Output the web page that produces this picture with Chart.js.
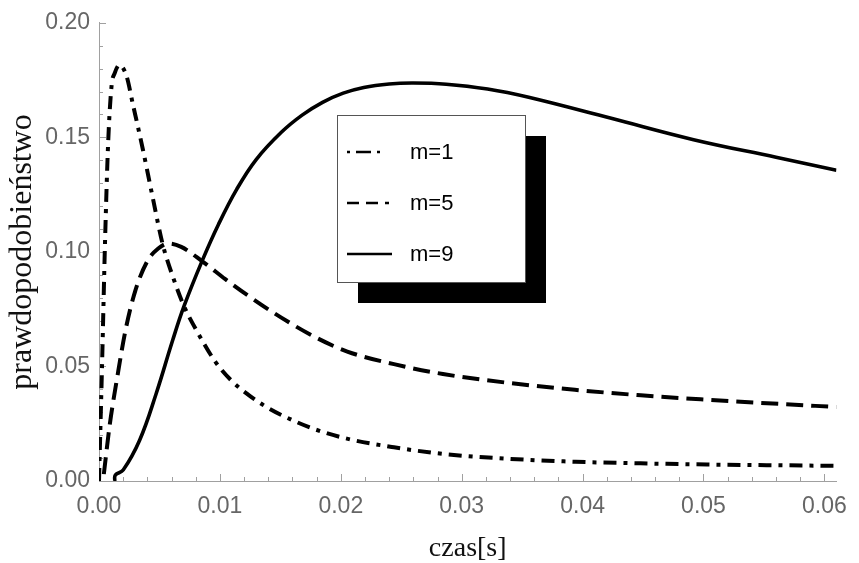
<!DOCTYPE html>
<html>
<head>
<meta charset="utf-8">
<script src="https://cdn.jsdelivr.net/npm/chart.js@4.4.1/dist/chart.umd.min.js"></script>
<style>
  html, body { margin: 0; padding: 0; background: #fff; }
  #wrap { width: 859px; height: 563px; }
</style>
</head>
<body>
<div id="wrap"><canvas id="probChart"></canvas></div>
<script>
// czas [s] / prawdopodobieństwo for m = 1, 5, 9
var t1 = [0, 0.0001, 0.00025, 0.0005, 0.00076, 0.00104, 0.0013, 0.00168, 0.00227, 0.0028, 0.00363, 0.00444,
          0.00526, 0.0062, 0.00704, 0.00827, 0.00963, 0.011, 0.01236, 0.01372, 0.01508, 0.0178, 0.0205,
          0.0244, 0.0285, 0.0339, 0.0394, 0.0448, 0.0503, 0.0557, 0.061];
var p1 = [0, 0.02, 0.05, 0.1046, 0.148, 0.1725, 0.178, 0.1816, 0.1769, 0.1645, 0.1447, 0.1238,
          0.1035, 0.0878, 0.0762, 0.0638, 0.052, 0.0436, 0.0376, 0.0327, 0.0288, 0.0227, 0.0185,
          0.0147, 0.0118, 0.0097, 0.0084, 0.0077, 0.0072, 0.0069, 0.0066];

var t5 = [0.0004, 0.0009, 0.0015, 0.0022, 0.003, 0.004, 0.0049, 0.00575, 0.0068, 0.00854, 0.01045,
          0.01236, 0.01508, 0.01781, 0.02054, 0.0244, 0.02845, 0.0339, 0.03936, 0.04482,
          0.05027, 0.05573, 0.061];
var p5 = [0.003, 0.025, 0.045, 0.066, 0.083, 0.096, 0.1015, 0.1037, 0.1022, 0.0959, 0.0881,
          0.0808, 0.0713, 0.063, 0.0565, 0.051, 0.0467, 0.0428, 0.0398, 0.0374,
          0.0355, 0.0338, 0.0323];

var t9 = [0.0013, 0.00135, 0.002, 0.00336, 0.00472, 0.00608, 0.00704, 0.00854, 0.0099, 0.0114, 0.013,
          0.01508, 0.0168, 0.01849, 0.0202, 0.0219, 0.024, 0.026, 0.02872, 0.03214, 0.03554, 0.04237,
          0.04918, 0.056, 0.061];
var p9 = [0, 0.0026, 0.0048, 0.0178, 0.038, 0.0612, 0.0764, 0.0962, 0.1122, 0.1274, 0.1403,
          0.1522, 0.1597, 0.1653, 0.1693, 0.1718, 0.1733, 0.1737, 0.1732, 0.1711, 0.1675, 0.1583,
          0.149, 0.1413, 0.1356];

var names = ['m=1', 'm=5', 'm=9'];
var xTicks = [0, 0.01, 0.02, 0.03, 0.04, 0.05, 0.06];
var yTicks = [0, 0.05, 0.10, 0.15, 0.20];
var xMax = 0.061;

function pts(t, p) {
  return t.map(function (v, i) { return {x: v, y: p[i]}; });
}

// small inward tick marks, major + minor
var inwardTicks = {
  id: 'inwardTicks',
  beforeDatasetsDraw: function (chart) {
    var ctx = chart.ctx, a = chart.chartArea, x = chart.scales.x, y = chart.scales.y;
    ctx.save();
    ctx.strokeStyle = '#a0a0a0';
    ctx.lineWidth = 1;
    ctx.beginPath();
    for (var i = 0; i * 0.002 <= xMax + 1e-9; i++) {
      var px = Math.round(x.getPixelForValue(i * 0.002)) + 0.5;
      var len = i % 5 === 0 ? 7 : 4;
      ctx.moveTo(px, a.bottom);
      ctx.lineTo(px, a.bottom - len);
    }
    for (var j = 0; j <= 20; j++) {
      var py = Math.round(y.getPixelForValue(j * 0.01)) + 0.5;
      var l = j % 5 === 0 ? 7 : 4;
      ctx.moveTo(a.left, py);
      ctx.lineTo(a.left + l, py);
    }
    ctx.stroke();
    ctx.restore();
  }
};

// framed legend with a solid drop shadow
var boxLegend = {
  id: 'boxLegend',
  afterDatasetsDraw: function (chart) {
    var ctx = chart.ctx;
    var bx = 337, by = 115, bw = 188, bh = 167, off = 21;
    var dashes = [[3, 6, 15, 6], [12, 7], []];
    var ends = [384, 389, 392];
    ctx.save();
    ctx.fillStyle = '#000';
    ctx.fillRect(bx + off, by + off, bw, bh);
    ctx.fillStyle = '#fff';
    ctx.fillRect(bx, by, bw, bh);
    ctx.strokeStyle = '#555';
    ctx.lineWidth = 1;
    ctx.strokeRect(bx + 0.5, by + 0.5, bw, bh);
    ctx.font = '22px "Liberation Sans", Arial, sans-serif';
    ctx.textBaseline = 'middle';
    ctx.textAlign = 'left';
    chart.data.datasets.forEach(function (ds, i) {
      var yy = 152 + i * 51;
      ctx.strokeStyle = '#000';
      ctx.lineWidth = 2.5;
      ctx.setLineDash(dashes[i]);
      ctx.beginPath();
      ctx.moveTo(347, yy);
      ctx.lineTo(ends[i], yy);
      ctx.stroke();
      ctx.setLineDash([]);
      ctx.fillStyle = '#000';
      ctx.fillText(ds.label, 410, yy + 1);
    });
    ctx.restore();
  }
};

var ctx = document.getElementById('probChart');
var chart = new Chart(ctx, {
  type: 'scatter',
  data: {
    datasets: [{
      label: names[0],
      data: pts(t1, p1),
      borderColor: '#000',
      borderWidth: 4,
      borderDash: [13, 7, 4, 7],
      showLine: true,
      pointRadius: 0,
      cubicInterpolationMode: 'monotone'
    }, {
      label: names[1],
      data: pts(t5, p5),
      borderColor: '#000',
      borderWidth: 4,
      borderDash: [17, 8],
      showLine: true,
      pointRadius: 0,
      cubicInterpolationMode: 'monotone'
    }, {
      label: names[2],
      data: pts(t9, p9),
      borderColor: '#000',
      borderWidth: 3.6,
      showLine: true,
      pointRadius: 0,
      tension: 0.4
    }]
  },
  options: {
    responsive: true,
    maintainAspectRatio: false,
    animation: false,
    events: [],
    layout: { padding: { top: 20, right: 15, left: 0, bottom: 0 } },
    plugins: {
      legend: { display: false },
      tooltip: { enabled: false }
    },
    scales: {
      x: {
        type: 'linear',
        min: 0,
        max: xMax,
        afterBuildTicks: function (s) { s.ticks = xTicks.map(function (v) { return {value: v}; }); },
        afterFit: function (s) { s.height = 82; },
        grid: { display: false, drawTicks: false },
        border: { display: true, color: '#a0a0a0', width: 1 },
        ticks: {
          includeBounds: false,
          padding: 12,
          color: '#666',
          font: { family: '"Liberation Sans", Arial, sans-serif', size: 23 },
          callback: function (v) { return Number(v).toFixed(2); }
        },
        title: {
          display: true,
          text: 'czas[s]',
          color: '#111',
          font: { family: '"Liberation Serif", "Times New Roman", serif', size: 28, lineHeight: 1 },
          padding: { top: 0, bottom: 0 }
        }
      },
      y: {
        type: 'linear',
        min: 0,
        max: 0.2,
        afterBuildTicks: function (s) { s.ticks = yTicks.map(function (v) { return {value: v}; }); },
        afterFit: function (s) { s.width = 99; },
        grid: { display: false, drawTicks: false },
        border: { display: true, color: '#a0a0a0', width: 1 },
        ticks: {
          padding: 9,
          color: '#666',
          font: { family: '"Liberation Sans", Arial, sans-serif', size: 23 },
          callback: function (v) { return Number(v).toFixed(2); }
        },
        title: {
          display: true,
          text: 'prawdopodobieństwo',
          color: '#111',
          font: { family: '"Liberation Serif", "Times New Roman", serif', size: 32 },
          padding: { top: 3, bottom: 0 }
        }
      }
    }
  },
  plugins: [inwardTicks, boxLegend]
});
</script>
</body>
</html>
